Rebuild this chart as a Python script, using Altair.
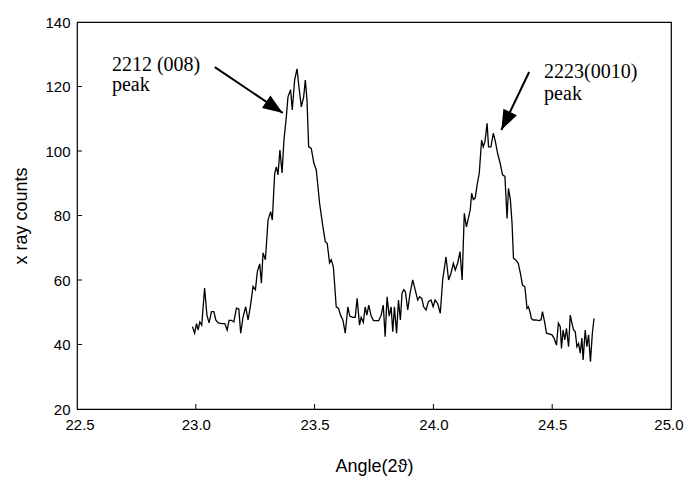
import altair as alt
import pandas as pd

angle = [22.986, 22.995, 23.003, 23.010, 23.017, 23.025, 23.037, 23.047, 23.056, 23.066,
         23.076, 23.084, 23.094, 23.108, 23.122, 23.132, 23.140, 23.150, 23.160, 23.171,
         23.181, 23.189, 23.199, 23.210, 23.220, 23.230, 23.241, 23.251, 23.259, 23.269,
         23.276, 23.283, 23.293, 23.304, 23.315, 23.322, 23.332, 23.339, 23.346, 23.354,
         23.363, 23.371, 23.381, 23.388, 23.399, 23.406, 23.416, 23.426, 23.434, 23.444,
         23.454, 23.461, 23.468, 23.475, 23.486, 23.497, 23.507, 23.521, 23.535, 23.545,
         23.553, 23.563, 23.570, 23.579, 23.584, 23.591, 23.601, 23.609, 23.619, 23.629,
         23.640, 23.648, 23.661, 23.671, 23.679, 23.689, 23.696, 23.705, 23.713, 23.720,
         23.728, 23.738, 23.748, 23.759, 23.770, 23.780, 23.789, 23.797, 23.805, 23.814,
         23.822, 23.829, 23.836, 23.845, 23.853, 23.861, 23.868, 23.875, 23.882, 23.892,
         23.902, 23.913, 23.923, 23.934, 23.942, 23.951, 23.959, 23.969, 23.979, 23.990,
         23.999, 24.007, 24.018, 24.029, 24.039, 24.053, 24.064, 24.074, 24.084, 24.092,
         24.102, 24.112, 24.121, 24.130, 24.139, 24.147, 24.155, 24.161, 24.168, 24.176,
         24.184, 24.193, 24.203, 24.210, 24.217, 24.226, 24.232, 24.242, 24.252, 24.261,
         24.270, 24.281, 24.291, 24.301, 24.310, 24.316, 24.324, 24.331, 24.337, 24.347,
         24.357, 24.366, 24.375, 24.385, 24.394, 24.400, 24.408, 24.412, 24.420, 24.432,
         24.442, 24.453, 24.459, 24.468, 24.476, 24.487, 24.499, 24.508, 24.518, 24.526,
         24.534, 24.539, 24.546, 24.553, 24.560, 24.569, 24.576, 24.583, 24.590, 24.597,
         24.604, 24.611, 24.618, 24.625, 24.630, 24.639, 24.646, 24.653, 24.661, 24.669,
         24.676]

counts = [45.5, 43.5, 46.5, 44.5, 47, 46, 57.5, 49, 46.7, 50.2,
          50.2, 47.6, 46.7, 46.5, 46.5, 44.5, 47.5, 47.5, 47, 51.3,
          51, 43.5, 48.6, 51.7, 47.6, 52, 58, 57, 62.6, 65,
          59, 68.4, 66.3, 78.6, 81.2, 78.6, 93, 95.1, 92.6, 100.3,
          93.2, 103.4, 110.6, 116.8, 119, 112.7, 122, 125.5, 120, 113.7,
          116.8, 122, 115.8, 101.3, 100.8, 96.2, 94.2, 83.8, 76.5, 71.9,
          71.4, 65.3, 66.3, 64.1, 59, 51.7, 51.2, 49.1, 47.6, 43.5,
          51.7, 48.8, 48.4, 48.4, 54.3, 46, 48.4, 46.9, 51.7, 49.1,
          52.2, 48.8, 47.4, 47.4, 47.4, 49.1, 52.2, 42.4, 54.8, 48.8,
          51.7, 44, 51.7, 43.5, 53.8, 47.6, 55.9, 57, 56.4, 50.7,
          56, 60, 57, 53.8, 54.8, 54.3, 51.7, 50.7, 53.3, 53.8,
          51.7, 53.8, 52.7, 49.7, 60, 67.2, 60, 62.1, 65.2, 63.1,
          65.2, 68.8, 60, 80.7, 76.5, 79.1, 81.7, 86.9, 84.9, 85.4,
          89.5, 93.1, 103.4, 101.3, 102.9, 108.6, 101.3, 101.3, 105.5, 102.9,
          99.3, 96.2, 92.6, 92.1, 79.1, 88.4, 84.9, 77.6, 66.7, 66.2,
          65.2, 62.1, 58.4, 57.9, 51.2, 51.7, 49.7, 48.1, 47.6, 47.6,
          47.4, 47.6, 50.2, 47, 43.5, 43.3, 43, 41.9, 39.8, 46.6,
          45.5, 38.8, 44.5, 41.4, 45, 39.3, 49.1, 46.6, 44.5, 44,
          39.3, 40.3, 37.3, 42, 35.2, 44.5, 39.3, 43, 34.7, 43.5,
          48.1]

x_labels = [22.5, 23.0, 23.5, 24.0, 24.5, 25.0]
y_labels = [20, 40, 60, 80, 100, 120, 140]
x_ticks = [23.0, 23.5, 24.0, 24.5]
y_ticks = [40, 60, 80, 100, 120]

label_text = ["2212 (008)", "peak", "2223(0010)", "peak"]
label_angle = [22.647, 22.647, 24.466, 24.466]
label_counts = [124.8, 118.6, 122.6, 115.8]

arrow_id = ["a", "a", "b", "b"]
arrow_angle = [23.080, 23.366, 24.403, 24.286]
arrow_counts = [126.0, 111.8, 124.5, 106.5]

xs = alt.Scale(domain=[22.5, 25.0], nice=False, zero=False)
ys = alt.Scale(domain=[20, 140], nice=False, zero=False)

df = pd.DataFrame({"angle": angle, "counts": counts})

base_x = alt.X("angle:Q", scale=xs,
               axis=alt.Axis(values=x_labels, format=".1f",
                             title="Angle(2\u03d1)", ticks=False, domain=False, grid=False,
                             labelFont="Liberation Sans", labelFontSize=15, labelColor="black",
                             labelPadding=8, titleFont="Liberation Sans", titleFontSize=18,
                             titleFontWeight="normal", titleColor="black", titlePadding=25,
                             labelFlush=True, labelFlushOffset=12))
base_y = alt.Y("counts:Q", scale=ys,
               axis=alt.Axis(values=y_labels, title="x ray counts",
                             ticks=False, domain=False, grid=False,
                             labelFont="Liberation Sans", labelFontSize=15, labelColor="black",
                             labelPadding=7, titleFont="Liberation Sans", titleFontSize=18,
                             titleFontWeight="normal", titleColor="black", titlePadding=14,
                             labelFlush=False))

line = alt.Chart(df).mark_line(color="black", strokeWidth=1.3).encode(x=base_x, y=base_y)

yt = alt.Chart(pd.DataFrame({"counts": y_ticks})).mark_rule(color="black", strokeWidth=1).encode(
    y=alt.Y("counts:Q", scale=ys), x=alt.value(0), x2=alt.value(5))
xt = alt.Chart(pd.DataFrame({"angle": x_ticks})).mark_rule(color="black", strokeWidth=1).encode(
    x=alt.X("angle:Q", scale=xs), y=alt.value(387), y2=alt.value(382))

adf = pd.DataFrame({"angle": arrow_angle, "counts": arrow_counts, "id": arrow_id})
arrows = alt.Chart(adf).mark_line(color="black", strokeWidth=2).encode(
    x=alt.X("angle:Q", scale=xs), y=alt.Y("counts:Q", scale=ys), detail="id:N")

head_shape = "M0,0L-0.75,2L0.75,2Z"
head1 = alt.Chart(pd.DataFrame({"angle": [arrow_angle[1]], "counts": [arrow_counts[1]]})).mark_point(
    shape=head_shape, size=400, filled=True, color="black", opacity=1, angle=124).encode(
    x=alt.X("angle:Q", scale=xs), y=alt.Y("counts:Q", scale=ys))
head2 = alt.Chart(pd.DataFrame({"angle": [arrow_angle[3]], "counts": [arrow_counts[3]]})).mark_point(
    shape=head_shape, size=400, filled=True, color="black", opacity=1, angle=206).encode(
    x=alt.X("angle:Q", scale=xs), y=alt.Y("counts:Q", scale=ys))

tdf = pd.DataFrame({"angle": label_angle, "counts": label_counts, "t": label_text})
texts = alt.Chart(tdf).mark_text(align="left", baseline="alphabetic", font="Liberation Serif",
                                 fontSize=20, color="black").encode(
    x=alt.X("angle:Q", scale=xs), y=alt.Y("counts:Q", scale=ys), text="t:N")

chart = alt.layer(line, yt, xt, arrows, head1, head2, texts).properties(
    width=594, height=387,
    padding={"left": 77, "top": 22, "right": 13, "bottom": 78},
    autosize=alt.AutoSizeParams(type="none"),
    background="white",
).configure_view(stroke="black", strokeWidth=1.2)

chart.save("out.html", embed_options={"renderer": "svg", "actions": False})
